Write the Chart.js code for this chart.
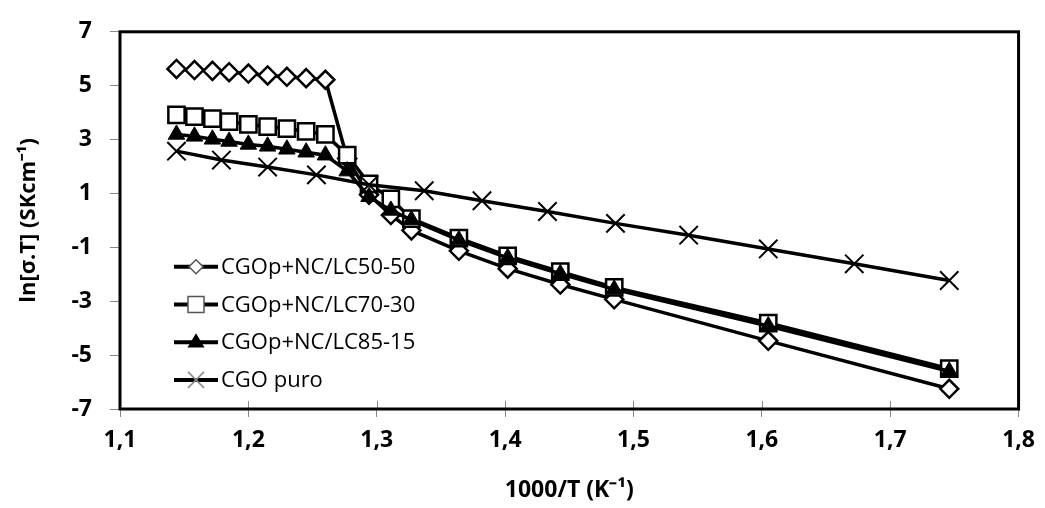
<!DOCTYPE html>
<html>
<head>
<meta charset="utf-8">
<script src="https://cdn.jsdelivr.net/npm/chart.js@4.4.1/dist/chart.umd.min.js"></script>
<style>
  html, body { margin: 0; padding: 0; background: #fff; }
</style>
</head>
<body>
<canvas id="chart" width="1045" height="508"></canvas>
<script>
// 1000/T values shared by the three composite samples
const lcX = [1.144, 1.158, 1.172, 1.185, 1.200, 1.215, 1.230, 1.245, 1.260,
  1.277, 1.294, 1.311, 1.327, 1.364, 1.402, 1.443, 1.485, 1.605, 1.746];
const lc5050 = [5.62, 5.58, 5.55, 5.50, 5.45, 5.38, 5.33, 5.28, 5.22,
  2.30, 0.95, 0.20, -0.37, -1.13, -1.79, -2.38, -2.93, -4.47, -6.25];
const lc7030 = [3.92, 3.85, 3.78, 3.67, 3.56, 3.48, 3.41, 3.30, 3.19,
  2.42, 1.36, 0.80, 0.07, -0.66, -1.32, -1.90, -2.49, -3.81, -5.50];
const lc8515 = [3.19, 3.12, 3.01, 2.93, 2.82, 2.75, 2.64, 2.53, 2.42,
  1.83, 0.88, 0.37, 0.02, -0.73, -1.39, -1.98, -2.56, -3.92, -5.60];

// pure CGO has its own temperatures
const puroX = [1.144, 1.179, 1.215, 1.253, 1.294, 1.337, 1.382, 1.433, 1.486, 1.543, 1.605, 1.672, 1.746];
const puroY = [2.57, 2.24, 1.98, 1.69, 1.32, 1.10, 0.73, 0.33, -0.11, -0.55, -1.06, -1.61, -2.23];

const seriesNames = ["CGOp+NC/LC50-50", "CGOp+NC/LC70-30", "CGOp+NC/LC85-15", "CGO puro"];
const xTicks = [1.1, 1.8, 0.1];
const yTicks = [-7, 7, 2];

const FONT = '"Open Sans", "Liberation Sans", sans-serif';

function pts(xs, ys) {
  return xs.map((x, i) => ({ x: x, y: ys[i] }));
}

// small marker painter for the legend
function drawMarker(ctx, style, x, y, r, fill, stroke, lw) {
  ctx.save();
  ctx.fillStyle = fill;
  ctx.strokeStyle = stroke;
  ctx.lineWidth = lw;
  ctx.beginPath();
  if (style === "rectRot") {
    ctx.moveTo(x, y - r); ctx.lineTo(x + r, y); ctx.lineTo(x, y + r); ctx.lineTo(x - r, y);
    ctx.closePath(); ctx.fill(); ctx.stroke();
  } else if (style === "rect") {
    ctx.rect(x - r, y - r, 2 * r, 2 * r); ctx.fill(); ctx.stroke();
  } else if (style === "triangle") {
    ctx.moveTo(x, y - r); ctx.lineTo(x + r * 0.95, y + r * 0.6); ctx.lineTo(x - r * 0.95, y + r * 0.6);
    ctx.closePath(); ctx.fill();
  } else {
    ctx.moveTo(x - r, y - r); ctx.lineTo(x + r, y + r);
    ctx.moveTo(x + r, y - r); ctx.lineTo(x - r, y + r); ctx.stroke();
  }
  ctx.restore();
}

const legendMarks = [
  { r: 7, fill: "#fff", stroke: "#555", lw: 1.5 },
  { r: 8, fill: "#fff", stroke: "#555", lw: 1.5 },
  { r: 9, fill: "#000", stroke: "#000", lw: 1 },
  { r: 8, fill: "#fff", stroke: "#888", lw: 1.5 }
];

const insideLegend = {
  id: "insideLegend",
  afterDraw(chart) {
    const ctx = chart.ctx;
    const x0 = chart.chartArea.left + 54;
    const y0 = chart.chartArea.top + 235;
    chart.data.datasets.forEach((ds, i) => {
      const y = y0 + i * 37.7;
      ctx.save();
      ctx.strokeStyle = "#000";
      ctx.lineWidth = 4;
      ctx.beginPath();
      ctx.moveTo(x0, y);
      ctx.lineTo(x0 + 44, y);
      ctx.stroke();
      const m = legendMarks[i];
      drawMarker(ctx, ds.pointStyle, x0 + 22, y, m.r, m.fill, m.stroke, m.lw);
      ctx.fillStyle = "#000";
      ctx.font = "22px " + FONT;
      ctx.textBaseline = "middle";
      ctx.fillText(ds.label, x0 + 47, y + 1);
      ctx.restore();
    });
  }
};

const frame = {
  id: "frame",
  beforeDatasetsDraw(chart) {
    const ctx = chart.ctx;
    const a = chart.chartArea;
    const xs = chart.scales.x;
    ctx.save();
    ctx.strokeStyle = "#888";
    ctx.lineWidth = 1;
    xs.ticks.forEach(t => {
      const px = Math.round(xs.getPixelForValue(t.value)) + 0.5;
      ctx.beginPath();
      ctx.moveTo(px, a.bottom);
      ctx.lineTo(px, a.bottom - 8);
      ctx.stroke();
    });
    ctx.strokeStyle = "#000";
    ctx.lineWidth = 3;
    ctx.strokeRect(a.left, a.top, a.right - a.left, a.bottom - a.top);
    ctx.restore();
  }
};

const lineBase = { showLine: true, borderColor: "#000", borderWidth: 3.5, tension: 0 };

new Chart(document.getElementById("chart"), {
  type: "scatter",
  data: {
    datasets: [
      Object.assign({}, lineBase, {
        label: seriesNames[0], data: pts(lcX, lc5050), order: 4,
        pointStyle: "rectRot", pointRadius: 9, pointBorderWidth: 2.5,
        pointBackgroundColor: "#fff", pointBorderColor: "#000"
      }),
      Object.assign({}, lineBase, {
        label: seriesNames[1], data: pts(lcX, lc7030), order: 3,
        pointStyle: "rect", pointRadius: 11.5, pointBorderWidth: 2.5,
        pointBackgroundColor: "#fff", pointBorderColor: "#000"
      }),
      Object.assign({}, lineBase, {
        label: seriesNames[2], data: pts(lcX, lc8515), order: 2,
        pointStyle: "triangle", pointRadius: 9.5, pointBorderWidth: 1,
        pointBackgroundColor: "#000", pointBorderColor: "#000"
      }),
      Object.assign({}, lineBase, {
        label: seriesNames[3], data: pts(puroX, puroY), order: 1,
        pointStyle: "crossRot", pointRadius: 13, pointBorderWidth: 2,
        pointBackgroundColor: "#000", pointBorderColor: "#000"
      })
    ]
  },
  options: {
    responsive: false,
    animation: false,
    layout: { padding: { top: 27, right: 22, left: 0, bottom: 0 } },
    plugins: { legend: { display: false }, tooltip: { enabled: false } },
    scales: {
      x: {
        type: "linear",
        min: xTicks[0], max: xTicks[1],
        ticks: {
          stepSize: xTicks[2],
          color: "#000",
          padding: 10,
          font: { family: FONT, size: 23, weight: "bold" },
          callback: v => v.toFixed(1).replace(".", ",")
        },
        grid: { drawOnChartArea: false, tickLength: 8, tickColor: "#888" },
        border: { display: false },
        title: {
          display: true, text: "1000/T (K\u207B\u00B9)", color: "#000",
          font: { family: FONT, size: 23, weight: "bold" }, padding: { top: 8 }
        },
        afterFit: s => { s.height = 99; }
      },
      y: {
        min: yTicks[0], max: yTicks[1],
        ticks: {
          stepSize: yTicks[2],
          color: "#000",
          padding: 18,
          font: { family: FONT, size: 23, weight: "bold" }
        },
        grid: { drawOnChartArea: false, tickLength: 10, tickColor: "#888" },
        border: { display: false },
        title: {
          display: true, text: "ln[\u03C3.T] (SKcm\u207B\u00B9)", color: "#000",
          font: { family: FONT, size: 22, weight: "bold" }, padding: { top: 16, bottom: 0 }
        },
        afterFit: s => { s.width = 120; }
      }
    }
  },
  plugins: [frame, insideLegend]
});
</script>
</body>
</html>
